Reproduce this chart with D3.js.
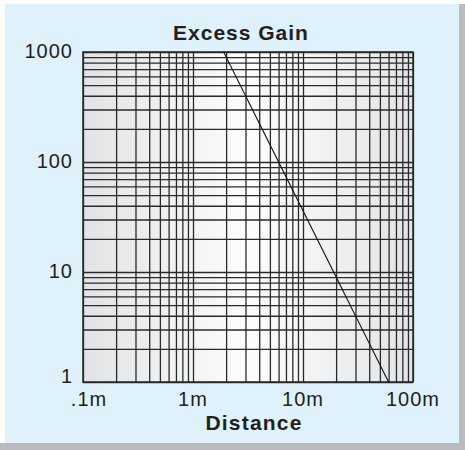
<!DOCTYPE html>
<html>
<head>
<meta charset="utf-8">
<script src="https://cdn.jsdelivr.net/npm/d3@7"></script>
<style>
  body { margin: 0; background: #fff; }
  text { font-family: "Liberation Sans", Arial, sans-serif; fill: #231f20; }
</style>
</head>
<body>
<svg id="chart" width="465" height="450"></svg>
<script>
// excess gain vs distance (inverse square)
const lineDistance = [1.9, 60];
const lineGain = [1000, 1];
const xTicks = [0.1, 1, 10, 100];
const xTickLabels = [".1m", "1m", "10m", "100m"];
const yTicks = [1, 10, 100, 1000];
const yTickLabels = ["1", "10", "100", "1000"];
const title = "Excess Gain";
const xTitle = "Distance";

const svg = d3.select("#chart");
const W = 465, H = 450;
const margin = { left: 83, top: 52, right: 52, bottom: 68 };
const iw = W - margin.left - margin.right,
    ih = H - margin.top - margin.bottom;

// panel + shadow
svg.append("rect").attr("x", 0).attr("y", 443).attr("width", W).attr("height", 7).attr("fill", "#b9bbbe");
svg.append("rect").attr("x", 459).attr("y", 4).attr("width", 6).attr("height", 446).attr("fill", "#b9bbbe");
svg.append("rect").attr("x", 5).attr("y", 4).attr("width", 454).attr("height", 439).attr("fill", "#dff1fb");

const defs = svg.append("defs");
const grad = defs.append("linearGradient").attr("id", "plotBg")
    .attr("x1", "0%").attr("x2", "100%").attr("y1", "0%").attr("y2", "0%");
grad.append("stop").attr("offset", "0%").attr("stop-color", "#e2e3e5");
grad.append("stop").attr("offset", "50%").attr("stop-color", "#fdfdfd");
grad.append("stop").attr("offset", "100%").attr("stop-color", "#e3e4e6");

const x = d3.scaleLog().domain([0.1, 100]).range([0, iw]);
const y = d3.scaleLog().domain([1, 1000]).range([ih, 0]);

const g = svg.append("g").attr("transform", `translate(${margin.left},${margin.top})`);

g.append("rect").attr("width", iw).attr("height", ih).attr("fill", "url(#plotBg)");

// grid lines on every 1..9 step
const xGrid = x.ticks(), yGrid = y.ticks();
g.append("g")
    .call(d3.axisBottom(x).tickValues(xGrid).tickSize(-ih).tickFormat(""))
    .attr("transform", `translate(0,${ih})`)
    .call(a => a.select(".domain").remove())
    .call(a => a.selectAll("line").attr("stroke", "#2a2a2a").attr("stroke-width", 1.3));
g.append("g")
    .call(d3.axisLeft(y).tickValues(yGrid).tickSize(-iw).tickFormat(""))
    .call(a => a.select(".domain").remove())
    .call(a => a.selectAll("line").attr("stroke", "#2a2a2a").attr("stroke-width", 1.3));

g.append("rect").attr("width", iw).attr("height", ih)
    .attr("fill", "none").attr("stroke", "#2a2a2a").attr("stroke-width", 1.5);

// excess gain line
const line = d3.line().x(d => x(d[0])).y(d => y(d[1]));
g.append("path")
    .datum(lineDistance.map((d, i) => [d, lineGain[i]]))
    .attr("d", line)
    .attr("fill", "none").attr("stroke", "#111").attr("stroke-width", 1.1);

// y tick labels
g.selectAll(".ylab").data(yTicks).join("text")
    .attr("class", "ylab")
    .attr("x", -10)
    .attr("y", d => Math.min(y(d) + 6, ih + 1))
    .attr("text-anchor", "end")
    .attr("font-size", 20)
    .attr("letter-spacing", 1)
    .text((d, i) => yTickLabels[i]);

// x tick labels
g.selectAll(".xlab").data(xTicks).join("text")
    .attr("class", "xlab")
    .attr("x", (d, i) => x(d) + (i === 0 ? 6 : 0))
    .attr("y", ih + 24)
    .attr("text-anchor", "middle")
    .attr("font-size", 20)
    .attr("letter-spacing", 1)
    .text((d, i) => xTickLabels[i]);

svg.append("text")
    .attr("x", 241).attr("y", 40)
    .attr("text-anchor", "middle")
    .attr("font-size", 21).attr("font-weight", "bold").attr("letter-spacing", 1)
    .text(title);

svg.append("text")
    .attr("x", 254).attr("y", 430)
    .attr("text-anchor", "middle")
    .attr("font-size", 21).attr("font-weight", "bold").attr("letter-spacing", 1.2)
    .text(xTitle);
</script>
</body>
</html>
